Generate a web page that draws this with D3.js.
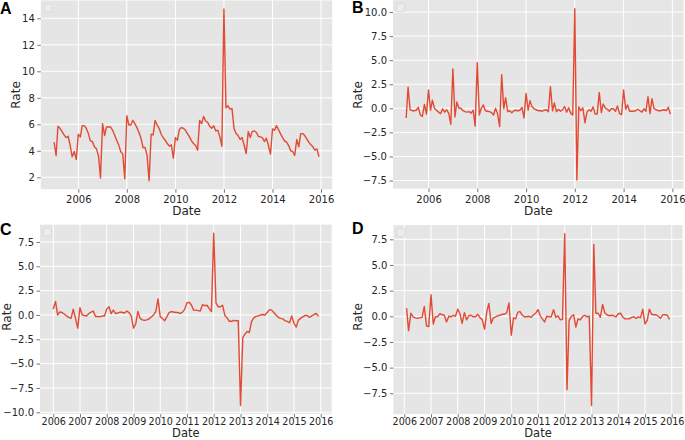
<!DOCTYPE html>
<html><head><meta charset="utf-8">
<script src="https://cdn.jsdelivr.net/npm/d3@7"></script>
<style>html,body{margin:0;padding:0;background:#fff;} svg{display:block;}</style>
</head><body>
<svg id="chart" width="685" height="440"></svg>
<script>
// ---- data (monthly) ----
const A_START = "2005-01";
const A_RATE = [
4.65, 3.65, 5.85, 5.7, 5.45, 5.2, 5.0, 5.1, 4.4, 3.55, 3.95, 3.35,
5.25, 5.05, 5.9, 5.9, 5.7, 5.3, 4.75, 4.7, 4.3, 4.15, 3.6, 1.95,
6.05, 5.15, 5.8, 5.8, 5.8, 5.55, 5.2, 4.8, 4.45, 3.95, 3.75, 1.9,
6.65, 5.95, 5.95, 6.3, 6.05, 5.75, 5.4, 4.95, 4.25, 4.25, 3.65, 1.75,
5.25, 5.2, 6.3, 5.95, 5.7, 5.25, 5.0, 4.8, 4.55, 4.35, 4.45, 3.45,
5.0, 4.8, 5.6, 5.75, 5.7, 5.55, 5.3, 5.05, 4.75, 4.55, 4.4, 4.05,
6.3, 6.05, 6.6, 6.25, 6.15, 5.85, 5.7, 5.9, 5.5, 5.55, 5.05, 4.35,
14.7, 7.25, 7.4, 7.15, 7.2, 5.7, 5.3, 5.15, 4.85, 5.0, 4.4, 3.8,
5.45, 5.0, 5.45, 5.5, 5.4, 5.1, 5.05, 5.0, 4.7, 4.95, 4.4, 3.75,
5.65, 5.55, 5.9, 5.6, 5.3, 5.0, 4.75, 4.65, 4.4, 4.0, 3.95, 3.65,
4.85, 4.3, 5.3, 5.3, 5.15, 4.9, 4.65, 4.45, 4.3, 4.05, 4.15, 3.55
];

const B_START = "2005-02";
const B_RATE = [
-1.0, 2.2, -0.15, -0.25, -0.25, -0.2, 0.1, -0.7, -0.85, 0.4, -0.6,
1.9, -0.2, 0.85, 0.0, -0.2, -0.4, -0.55, -0.05, -0.4, -0.15, -0.55, -1.65,
4.1, -0.9, 0.65, 0.0, 0.0, -0.25, -0.35, -0.4, -0.35, -0.5, -0.2, -1.85,
4.75, -0.7, 0.0, 0.35, -0.25, -0.3, -0.35, -0.45, -0.7, 0.0, -0.6, -1.9,
3.5, -0.05, 1.1, -0.35, -0.25, -0.45, -0.25, -0.2, -0.25, -0.2, 0.1, -1.0,
1.55, -0.2, 0.8, 0.15, -0.05, -0.15, -0.25, -0.25, -0.3, -0.2, -0.15, -0.35,
2.25, -0.25, 0.55, -0.35, -0.1, -0.3, -0.15, 0.2, -0.4, 0.05, -0.5, -0.7,
10.35, -7.45, 0.15, -0.25, 0.05, -1.5, -0.4, -0.15, -0.3, 0.15, -0.6, -0.6,
1.65, -0.45, 0.45, 0.05, -0.1, -0.3, -0.05, -0.05, -0.3, 0.25, -0.55, -0.65,
1.9, -0.1, 0.35, -0.3, -0.3, -0.3, -0.25, -0.1, -0.25, -0.4, -0.05, -0.3,
1.2, -0.55, 1.0, 0.0, -0.15, -0.25, -0.25, -0.2, -0.15, -0.25, 0.1, -0.6
];

const C_START = "2006-01";
const C_RATE = [
0.6, 1.4, 0.0, 0.3, 0.25, 0.1, -0.1, -0.25, -0.35, 0.6, -0.35, -1.35,
0.75, 0.0, -0.05, -0.1, 0.15, 0.3, 0.4, -0.15, -0.15, -0.2, -0.1, -0.1,
0.6, 0.85, 0.15, 0.5, 0.15, 0.2, 0.3, 0.25, 0.2, 0.4, 0.25, -0.1,
-1.35, -0.9, 0.35, -0.35, -0.5, -0.55, -0.5, -0.4, -0.2, 0.0, 0.35, 1.65,
-0.2, -0.35, -0.6, -0.2, 0.25, 0.35, 0.3, 0.25, 0.25, 0.15, 0.3, 0.6,
1.25, 1.3, 1.05, 0.5, 0.5, 0.45, 0.4, 1.05, 0.95, 1.0, 0.65, 0.35,
8.4, 1.25, 0.85, 0.85, 1.0, -0.05, -0.3, -0.65, -0.65, -0.55, -0.6, -0.6,
-9.3, -2.3, -2.0, -1.7, -1.8, -0.65, -0.3, -0.15, -0.1, 0.0, 0.05, 0.0,
0.25, 0.55, 0.5, 0.25, 0.0, -0.25, -0.35, -0.4, -0.6, -0.65, -0.8, -0.1,
-0.85, -1.25, -0.55, -0.35, -0.2, -0.05, -0.05, -0.25, -0.1, 0.05, 0.15, -0.15
];

const D_START = "2006-02";
const D_RATE = [
0.8, -1.4, 0.3, -0.05, -0.15, -0.2, -0.15, -0.1, 0.95, -0.95, -1.0,
2.1, -0.75, -0.05, -0.05, 0.25, 0.15, 0.1, -0.55, 0.0, -0.05, 0.1, 0.0,
0.7, 0.25, -0.7, 0.35, -0.35, 0.05, 0.1, -0.05, -0.05, 0.2, -0.15, -0.35,
-1.25, 0.45, 1.25, -0.7, -0.15, -0.05, 0.05, 0.1, 0.2, 0.2, 0.35, 1.3,
-1.85, -0.15, -0.25, 0.4, 0.45, 0.1, -0.05, -0.05, 0.0, -0.1, 0.15, 0.3,
0.65, 0.05, -0.25, -0.55, 0.0, -0.05, -0.05, 0.65, -0.1, 0.05, -0.35, -0.3,
8.05, -7.15, -0.4, 0.0, 0.15, -1.05, -0.25, -0.35, 0.0, 0.1, -0.05, 0.0,
-8.7, 7.0, 0.3, 0.3, -0.1, 1.15, 0.35, 0.15, 0.05, 0.1, 0.05, -0.05,
0.25, 0.3, -0.05, -0.25, -0.25, -0.25, -0.1, -0.05, -0.2, -0.05, -0.15, 0.7,
-0.75, -0.4, 0.7, 0.2, 0.15, 0.15, 0.0, -0.2, 0.15, 0.15, 0.1, -0.3
];

// tick values
const X_TICKS_2Y = [2006, 2008, 2010, 2012, 2014, 2016];
const X_TICKS_1Y = [2006, 2007, 2008, 2009, 2010, 2011, 2012, 2013, 2014, 2015, 2016];
const A_Y_TICKS = [2, 4, 6, 8, 10, 12, 14];
const B_Y_TICKS = [-7.5, -5, -2.5, 0, 2.5, 5, 7.5, 10];
const C_Y_TICKS = [-10, -7.5, -5, -2.5, 0, 2.5, 5, 7.5];
const D_Y_TICKS = [-7.5, -5, -2.5, 0, 2.5, 5, 7.5];
const PANEL_LABELS = ["A", "B", "C", "D"];
const X_TITLE = "Date";
const Y_TITLE = "Rate";

// ---- layout / style ----
const BG = "#E5E5E5", LINE = "#E24A33", TXT = "#262626", TICKC = "#555555";
const parseM = d3.timeParse("%Y-%m");

const panels = [
  {label: PANEL_LABELS[0], values: A_RATE, start: A_START, xt: X_TICKS_2Y, yt: A_Y_TICKS, fmt: d3.format("d"),
   box: {x0: 40.8, x1: 332.2, y0: 0.45, y1: 189.2}, letter: [0, 14], rateX: 19.5, rateY: 95,
   dateY: 215, dateFs: 12, xpad: 3, xfs: 10},
  {label: PANEL_LABELS[1], values: B_RATE, start: B_START, xt: X_TICKS_2Y, yt: B_Y_TICKS, fmt: d3.format(".1f"),
   box: {x0: 393, x1: 683.5, y0: 0.1, y1: 188.6}, letter: [352, 13], rateX: 362, rateY: 95,
   dateY: 215, dateFs: 12, xpad: 3.5, xfs: 10},
  {label: PANEL_LABELS[2], values: C_RATE, start: C_START, xt: X_TICKS_1Y, yt: C_Y_TICKS, fmt: d3.format(".1f"),
   box: {x0: 40.0, x1: 331.7, y0: 224.6, y1: 414.1}, letter: [0, 235], rateX: 11, rateY: 317,
   dateY: 437.4, dateFs: 11.5, xpad: 0.8, xfs: 9.6},
  {label: PANEL_LABELS[3], values: D_RATE, start: D_START, xt: X_TICKS_1Y, yt: D_Y_TICKS, fmt: d3.format(".1f"),
   box: {x0: 393.4, x1: 682.6, y0: 225.05, y1: 414.2}, letter: [352, 234], rateX: 362, rateY: 317,
   dateY: 437.4, dateFs: 11.5, xpad: 0.8, xfs: 9.6}
];

const svg = d3.select("#chart");
svg.append("rect").attr("width", 685).attr("height", 440).attr("fill", "#fff");

panels.forEach(p => {
  const t0 = parseM(p.start);
  const data = p.values.map((v, i) => ({date: d3.timeMonth.offset(t0, i), v}));
  const [d0, d1] = d3.extent(data, d => +d.date);
  const dm = (d1 - d0) * 0.05;
  const [v0, v1] = d3.extent(data, d => d.v);
  const vm = (v1 - v0) * 0.05;
  const x = d3.scaleTime().domain([new Date(d0 - dm), new Date(d1 + dm)]).range([p.box.x0, p.box.x1]);
  const y = d3.scaleLinear().domain([v0 - vm, v1 + vm]).range([p.box.y1, p.box.y0]);
  const W = p.box.x1 - p.box.x0, H = p.box.y1 - p.box.y0;
  const g = svg.append("g");

  g.append("rect").attr("x", p.box.x0).attr("y", p.box.y0).attr("width", W).attr("height", H).attr("fill", BG);

  const xTickDates = p.xt.map(yr => new Date(yr, 0, 1));
  // grid
  g.append("g").selectAll("line").data(xTickDates).join("line")
    .attr("x1", d => x(d)).attr("x2", d => x(d)).attr("y1", p.box.y0).attr("y2", p.box.y1)
    .attr("stroke", "#fff").attr("stroke-width", 1);
  g.append("g").selectAll("line").data(p.yt).join("line")
    .attr("x1", p.box.x0).attr("x2", p.box.x1).attr("y1", d => y(d)).attr("y2", d => y(d))
    .attr("stroke", "#fff").attr("stroke-width", 1);

  // axes
  const xa = g.append("g").attr("transform", `translate(0,${p.box.y1})`)
    .call(d3.axisBottom(x).tickValues(xTickDates).tickFormat(d3.timeFormat("%Y")).tickSize(3.5).tickPadding(p.xpad));
  const ya = g.append("g").attr("transform", `translate(${p.box.x0},0)`)
    .call(d3.axisLeft(y).tickValues(p.yt).tickFormat(p.fmt).tickSize(3.5).tickPadding(2.5));
  [xa, ya].forEach(a => {
    a.select(".domain").remove();
    a.selectAll(".tick line").attr("stroke", TICKC).attr("stroke-width", 0.8);
    a.selectAll(".tick text").attr("fill", TXT).style("font-family", "DejaVu Sans").style("font-size", "10px");
  });
  xa.selectAll(".tick text").style("font-size", p.xfs + "px");

  // legend box (empty)
  g.append("rect").attr("x", p.box.x0 + 3.5).attr("y", p.box.y0 + 3.5).attr("width", 8).attr("height", 8)
    .attr("rx", 1.5).attr("fill", "#ececec").attr("stroke", "#d6d6d6").attr("stroke-width", 0.8);

  // line
  g.append("path").datum(data)
    .attr("d", d3.line().x(d => x(d.date)).y(d => y(d.v)))
    .attr("fill", "none").attr("stroke", LINE).attr("stroke-width", 1.4).attr("stroke-linejoin", "round");

  // titles
  g.append("text").attr("x", (p.box.x0 + p.box.x1) / 2).attr("y", p.dateY).attr("text-anchor", "middle")
    .style("font-family", "DejaVu Sans").style("font-size", p.dateFs + "px").attr("fill", TXT).text(X_TITLE);
  g.append("text").attr("transform", `translate(${p.rateX},${p.rateY}) rotate(-90)`).attr("text-anchor", "middle")
    .style("font-family", "DejaVu Sans").style("font-size", "12px").attr("fill", TXT).text(Y_TITLE);
  g.append("text").attr("x", p.letter[0]).attr("y", p.letter[1])
    .style("font-family", "Liberation Sans, Arial, sans-serif").style("font-size", "16px").style("font-weight", "bold")
    .attr("fill", "#000").text(p.label);
});
</script>
</body></html>
